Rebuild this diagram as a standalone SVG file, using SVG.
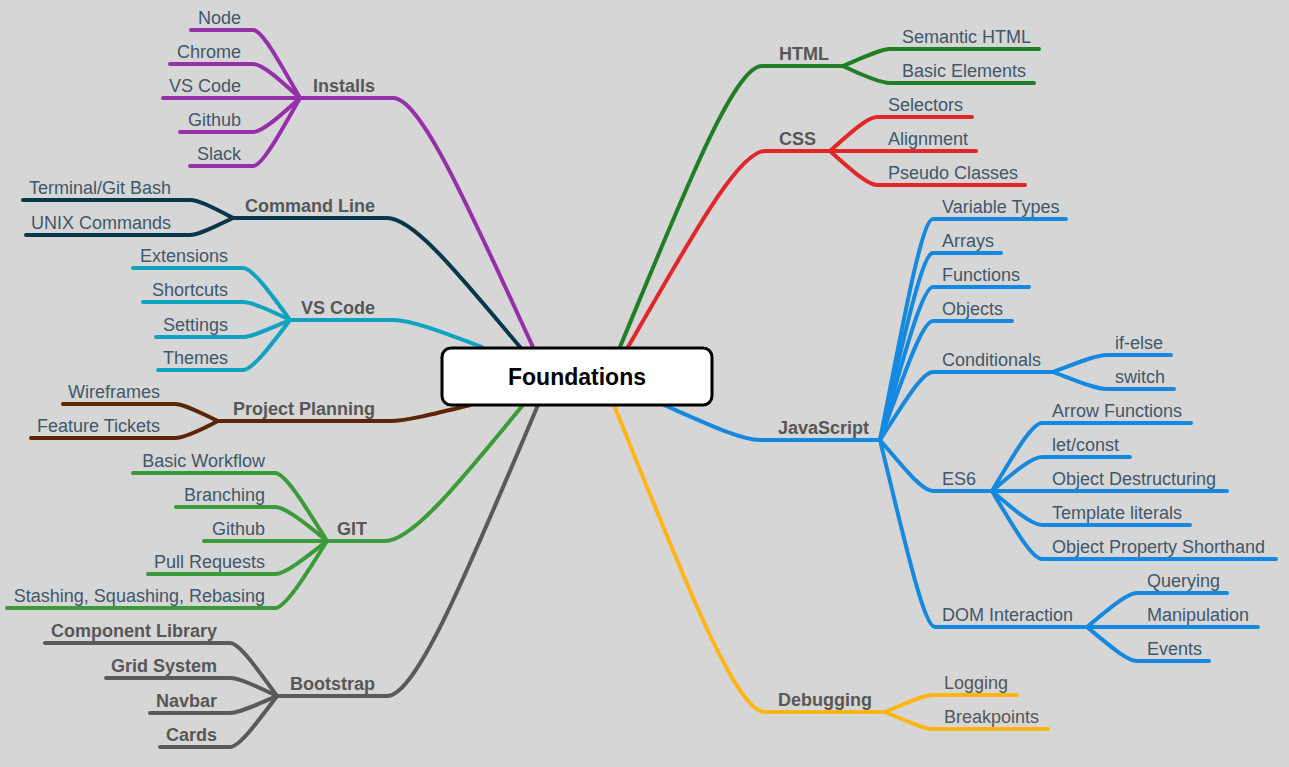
<svg xmlns="http://www.w3.org/2000/svg" width="1289" height="767" viewBox="0 0 1289 767">
<style>
.ln{fill:none;stroke-linecap:round;stroke-linejoin:round;stroke-width:4}
.pu{stroke:#9530a8}.cl{stroke:#08364a}.vs{stroke:#10a3bf}.pp{stroke:#5b2604}.gi{stroke:#3b9a3a}.bs{stroke:#5a5a5a}
.ht{stroke:#207f25}.cs{stroke:#e1262c}.js{stroke:#1589df}.db{stroke:#fdb515}
text{font-family:"Liberation Sans",Arial,sans-serif;font-size:18px}
.lb{font-weight:bold;fill:#575757}
.ch{fill:#41576a}
.gr{fill:#575757}
.e{text-anchor:end}
</style>
<rect x="0" y="0" width="1289" height="767" fill="#d6d6d6"/>
<g id="connectors">
<path class="ln pu" d="M533 347 C470 211 421 98 393 98 L300 98"/>
<path class="ln pu" d="M300 98 C279 61 262 30 253 30 L191 30"/>
<path class="ln pu" d="M300 98 C279 79 262 64 253 64 L170 64"/>
<path class="ln pu" d="M300 98 L163 98"/>
<path class="ln pu" d="M300 98 C279 117 262 132 253 132 L180 132"/>
<path class="ln pu" d="M300 98 C279 135 262 166 253 166 L190 166"/>
<path class="ln cl" d="M520 347 C460 276 414 218 387 218 L233 218"/>
<path class="ln cl" d="M233 218 C214 208 199 200 190 200 L23 200"/>
<path class="ln cl" d="M233 218 C214 227 199 235 190 235 L26 235"/>
<path class="ln vs" d="M482 347 C442 332 411 320 393 320 L290 320"/>
<path class="ln vs" d="M290 320 C269 291 252 268 243 268 L133 268"/>
<path class="ln vs" d="M290 320 C269 310 252 302 243 302 L143 302"/>
<path class="ln vs" d="M290 320 C269 329 252 337 243 337 L156 337"/>
<path class="ln vs" d="M290 320 C269 348 252 370 243 370 L158 370"/>
<path class="ln pp" d="M470 405 C434 414 406 421 390 421 L218 421"/>
<path class="ln pp" d="M218 421 C199 412 184 404 175 404 L63 404"/>
<path class="ln pp" d="M218 421 C199 431 184 438 175 438 L31 438"/>
<path class="ln gi" d="M523 405 C461 480 413 541 385 541 L327 541"/>
<path class="ln gi" d="M327 541 C304 504 285 473 275 473 L133 473"/>
<path class="ln gi" d="M327 541 C304 522 285 507 275 507 L176 507"/>
<path class="ln gi" d="M327 541 L204 541"/>
<path class="ln gi" d="M327 541 C304 559 285 574 275 574 L148 574"/>
<path class="ln gi" d="M327 541 C304 578 285 608 275 608 L7 608"/>
<path class="ln bs" d="M538 405 C470 565 417 696 387 696 L277 696"/>
<path class="ln bs" d="M277 696 C256 667 239 643 230 643 L45 643"/>
<path class="ln bs" d="M277 696 C256 686 239 678 230 678 L106 678"/>
<path class="ln bs" d="M277 696 C256 705 239 713 230 713 L150 713"/>
<path class="ln bs" d="M277 696 C256 724 239 747 230 747 L160 747"/>
<path class="ln ht" d="M620 347 C684 193 734 66 762 66 L843 66"/>
<path class="ln ht" d="M843 66 C864 57 881 49 890 49 L1039 49"/>
<path class="ln ht" d="M843 66 C864 76 881 83 890 83 L1034 83"/>
<path class="ln cs" d="M628 347 C690 240 738 151 765 151 L830 151"/>
<path class="ln cs" d="M830 151 C851 132 868 117 877 117 L972 117"/>
<path class="ln cs" d="M830 151 L976 151"/>
<path class="ln cs" d="M830 151 C851 170 868 185 877 185 L1025 185"/>
<path class="ln js" d="M664 405 C707 424 741 440 760 440 L880 440"/>
<path class="ln js" d="M880 440 C904 318 922 219 933 219 L1066 219"/>
<path class="ln js" d="M880 440 C904 337 922 253 933 253 L1001 253"/>
<path class="ln js" d="M880 440 C904 356 922 287 933 287 L1029 287"/>
<path class="ln js" d="M880 440 C904 375 922 321 933 321 L1012 321"/>
<path class="ln js" d="M880 440 C904 403 922 372 933 372 L1053 372"/>
<path class="ln js" d="M880 440 C904 468 922 491 933 491 L992 491"/>
<path class="ln js" d="M880 440 C905 543 924 627 935 627 L1087 627"/>
<path class="ln js" d="M1053 372 C1077 363 1096 355 1107 355 L1171 355"/>
<path class="ln js" d="M1053 372 C1077 381 1096 389 1107 389 L1174 389"/>
<path class="ln js" d="M992 491 C1014 454 1032 423 1042 423 L1191 423"/>
<path class="ln js" d="M992 491 C1014 472 1032 457 1042 457 L1130 457"/>
<path class="ln js" d="M992 491 L1227 491"/>
<path class="ln js" d="M992 491 C1014 510 1032 525 1042 525 L1190 525"/>
<path class="ln js" d="M992 491 C1014 528 1032 559 1042 559 L1276 559"/>
<path class="ln js" d="M1087 627 C1110 608 1127 593 1137 593 L1227 593"/>
<path class="ln js" d="M1087 627 L1258 627"/>
<path class="ln js" d="M1087 627 C1110 646 1127 661 1137 661 L1209 661"/>
<path class="ln db" d="M614 405 C682 574 735 712 765 712 L885 712"/>
<path class="ln db" d="M885 712 C907 703 923 695 933 695 L1017 695"/>
<path class="ln db" d="M885 712 C907 721 923 729 933 729 L1048 729"/>
</g>
<g id="foundations">
<rect x="442" y="348" width="270" height="57" rx="9" fill="#fff" stroke="#000" stroke-width="3"/>
<text x="577" y="385" text-anchor="middle" style="font-weight:bold;font-size:23px;fill:#000">Foundations</text>
</g>
<g id="installs">
<text class="lb e" x="375" y="92">Installs</text>
<text class="ch e" x="241" y="24">Node</text>
<text class="ch e" x="241" y="58">Chrome</text>
<text class="ch e" x="241" y="92">VS Code</text>
<text class="ch e" x="241" y="126">Github</text>
<text class="ch e" x="241" y="160">Slack</text>
</g>
<g id="command-line">
<text class="lb e" x="375" y="212">Command Line</text>
<text class="ch e" x="171" y="194">Terminal/Git Bash</text>
<text class="ch e" x="171" y="229">UNIX Commands</text>
</g>
<g id="vs-code">
<text class="lb e" x="375" y="314">VS Code</text>
<text class="ch e" x="228" y="262">Extensions</text>
<text class="ch e" x="228" y="296">Shortcuts</text>
<text class="ch e" x="228" y="331">Settings</text>
<text class="ch e" x="228" y="364">Themes</text>
</g>
<g id="project-planning">
<text class="lb e" x="375" y="415">Project Planning</text>
<text class="ch e" x="160" y="398">Wireframes</text>
<text class="ch e" x="160" y="432">Feature Tickets</text>
</g>
<g id="git">
<text class="lb e" x="367" y="535">GIT</text>
<text class="ch e" x="265" y="467">Basic Workflow</text>
<text class="ch e" x="265" y="501">Branching</text>
<text class="ch e" x="265" y="535">Github</text>
<text class="ch e" x="265" y="568">Pull Requests</text>
<text class="ch e" x="265" y="602">Stashing, Squashing, Rebasing</text>
</g>
<g id="bootstrap">
<text class="lb e" x="375" y="690">Bootstrap</text>
<text class="lb e" x="217" y="637">Component Library</text>
<text class="lb e" x="217" y="672">Grid System</text>
<text class="lb e" x="217" y="707">Navbar</text>
<text class="lb e" x="217" y="741">Cards</text>
</g>
<g id="html">
<text class="lb" x="779" y="60">HTML</text>
<text class="ch" x="902" y="43">Semantic HTML</text>
<text class="ch" x="902" y="77">Basic Elements</text>
</g>
<g id="css">
<text class="lb" x="779" y="145">CSS</text>
<text class="ch" x="888" y="111">Selectors</text>
<text class="ch" x="888" y="145">Alignment</text>
<text class="ch" x="888" y="179">Pseudo Classes</text>
</g>
<g id="javascript">
<text class="lb" x="778" y="434">JavaScript</text>
<text class="ch" x="942" y="213">Variable Types</text>
<text class="ch" x="942" y="247">Arrays</text>
<text class="ch" x="942" y="281">Functions</text>
<text class="ch" x="942" y="315">Objects</text>
</g>
<g id="conditionals">
<text class="ch" x="942" y="366">Conditionals</text>
<text class="ch" x="1115" y="349">if-else</text>
<text class="ch" x="1115" y="383">switch</text>
</g>
<g id="es6">
<text class="ch" x="942" y="485">ES6</text>
<text class="ch" x="1052" y="417">Arrow Functions</text>
<text class="ch" x="1052" y="451">let/const</text>
<text class="ch" x="1052" y="485">Object Destructuring</text>
<text class="ch" x="1052" y="519">Template literals</text>
<text class="ch" x="1052" y="553">Object Property Shorthand</text>
</g>
<g id="dom-interaction">
<text class="ch" x="942" y="621">DOM Interaction</text>
<text class="ch" x="1147" y="587">Querying</text>
<text class="ch" x="1147" y="621">Manipulation</text>
<text class="ch" x="1147" y="655">Events</text>
</g>
<g id="debugging">
<text class="lb" x="778" y="706">Debugging</text>
<text class="gr" x="944" y="689">Logging</text>
<text class="gr" x="944" y="723">Breakpoints</text>
</g>
</svg>
